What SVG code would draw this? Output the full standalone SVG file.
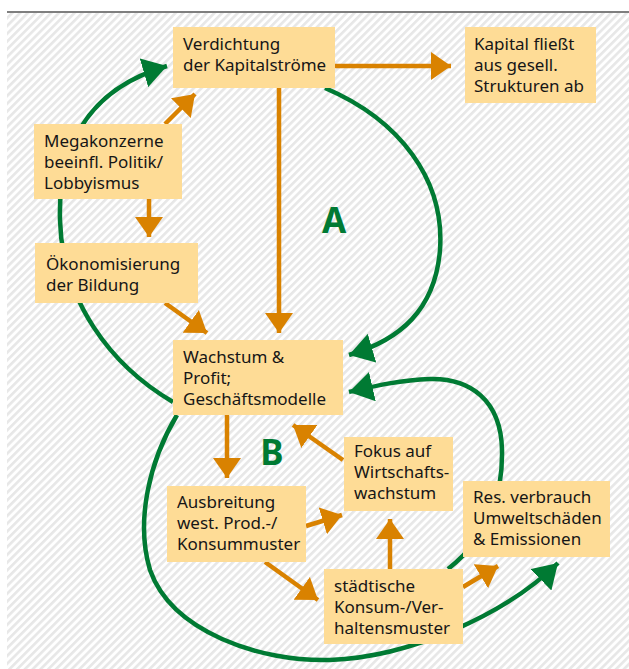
<svg xmlns="http://www.w3.org/2000/svg" width="629" height="669" viewBox="0 0 629 669">
<style>
.box{fill:#FEDC96}
.t{font-family:"Noto Sans","Liberation Sans",sans-serif;font-size:17px;fill:#161616}
.o{fill:none;stroke:#D98200;stroke-width:4.5}
.g{fill:none;stroke:#007A33;stroke-width:4.5}
.lab{font-family:"Noto Sans","Liberation Sans",sans-serif;font-size:35px;font-weight:bold;fill:#007A33;text-anchor:middle}
</style>
<defs>
<pattern id="hatch" patternUnits="userSpaceOnUse" width="5.5" height="10" patternTransform="rotate(45)">
<rect width="5.5" height="10" fill="#ffffff"/>
<rect width="2.6" height="10" fill="#e7e7e7"/>
</pattern>
<marker id="ao" markerUnits="userSpaceOnUse" markerWidth="20" markerHeight="28" refX="20" refY="14" orient="auto" viewBox="0 0 20 28">
<path d="M0,0 L20,14 L0,28 z" fill="#D98200"/>
</marker>
<marker id="ag" markerUnits="userSpaceOnUse" markerWidth="24" markerHeight="30" refX="24" refY="15" orient="auto" viewBox="0 0 24 30">
<path d="M0,0 L24,15 L0,30 z" fill="#007A33"/>
</marker>
</defs>
<rect x="0" y="0" width="629" height="669" fill="#ffffff"/>
<rect x="7" y="13" width="622" height="656" fill="url(#hatch)"/>
<line x1="7" y1="12" x2="629" y2="12" stroke="#555555" stroke-width="1.6"/>
<g id="connectors">
<path class="g" d="M173,402 C110,365 62,300 60,220 C58,150 85,90 167,66" marker-end="url(#ag)"/>
<path class="g" d="M325,88 C400,120 445,180 440,250 C435,310 400,340 349,355" marker-end="url(#ag)"/>
<path class="g" d="M177,415 C150,460 135,520 150,570 C172,632 260,662 330,660 C410,657 505,615 558,563" marker-end="url(#ag)"/>
<path class="g" d="M448,569 C485,540 503,500 502,450 C501,400 470,378 430,379 C400,380 375,386 349,392" marker-end="url(#ag)"/>
<path class="o" d="M335,66 L451,66" marker-end="url(#ao)"/>
<path class="o" d="M165,124 L195,94" marker-end="url(#ao)"/>
<path class="o" d="M149,199 L149,237" marker-end="url(#ao)"/>
<path class="o" d="M279,88 L279,333" marker-end="url(#ao)"/>
<path class="o" d="M165,303 L207,333" marker-end="url(#ao)"/>
<path class="o" d="M227,415 L227,478" marker-end="url(#ao)"/>
<path class="o" d="M343,460 L293,425" marker-end="url(#ao)"/>
<path class="o" d="M306,526 L342,515" marker-end="url(#ao)"/>
<path class="o" d="M265,562 L318,600" marker-end="url(#ao)"/>
<path class="o" d="M390,569 L390,519" marker-end="url(#ao)"/>
<path class="o" d="M463,587 L498,566" marker-end="url(#ao)"/>
</g>
<g id="n-verdichtung">
<rect class="box" x="173" y="27" width="162" height="61"/>
<text class="t" x="183" y="50">Verdichtung</text>
<text class="t" x="183" y="71">der Kapitalströme</text>
</g>
<g id="n-kapital">
<rect class="box" x="465" y="27" width="131" height="76"/>
<text class="t" x="474" y="50">Kapital fließt</text>
<text class="t" x="474" y="71">aus gesell.</text>
<text class="t" x="474" y="92">Strukturen ab</text>
</g>
<g id="n-megakonzerne">
<rect class="box" x="34" y="124" width="148" height="75"/>
<text class="t" x="44" y="147">Megakonzerne</text>
<text class="t" x="44" y="168">beeinfl. Politik/</text>
<text class="t" x="44" y="189">Lobbyismus</text>
</g>
<g id="n-oekonomisierung">
<rect class="box" x="35" y="243" width="163" height="60"/>
<text class="t" x="46" y="270">Ökonomisierung</text>
<text class="t" x="46" y="291">der Bildung</text>
</g>
<g id="n-wachstum">
<rect class="box" x="173" y="340" width="170" height="75"/>
<text class="t" x="183" y="363">Wachstum &amp;</text>
<text class="t" x="183" y="384">Profit;</text>
<text class="t" x="183" y="405">Geschäftsmodelle</text>
</g>
<g id="n-fokus">
<rect class="box" x="344" y="437" width="109" height="74"/>
<text class="t" x="354" y="457">Fokus auf</text>
<text class="t" x="354" y="478">Wirtschafts-</text>
<text class="t" x="354" y="499">wachstum</text>
</g>
<g id="n-res">
<rect class="box" x="463" y="481" width="147" height="76"/>
<text class="t" x="473" y="503">Res. verbrauch</text>
<text class="t" x="473" y="524">Umweltschäden</text>
<text class="t" x="473" y="545">&amp; Emissionen</text>
</g>
<g id="n-ausbreitung">
<rect class="box" x="167" y="486" width="139" height="76"/>
<text class="t" x="177" y="508">Ausbreitung</text>
<text class="t" x="177" y="529">west. Prod.-/</text>
<text class="t" x="177" y="550">Konsummuster</text>
</g>
<g id="n-staedtische">
<rect class="box" x="324" y="569" width="139" height="75"/>
<text class="t" x="334" y="592">städtische</text>
<text class="t" x="334" y="613">Konsum-/Ver-</text>
<text class="t" x="334" y="634">haltensmuster</text>
</g>
<g id="labels">
<text class="lab" x="334" y="233">A</text>
<text class="lab" x="272" y="465">B</text>
</g>
</svg>
